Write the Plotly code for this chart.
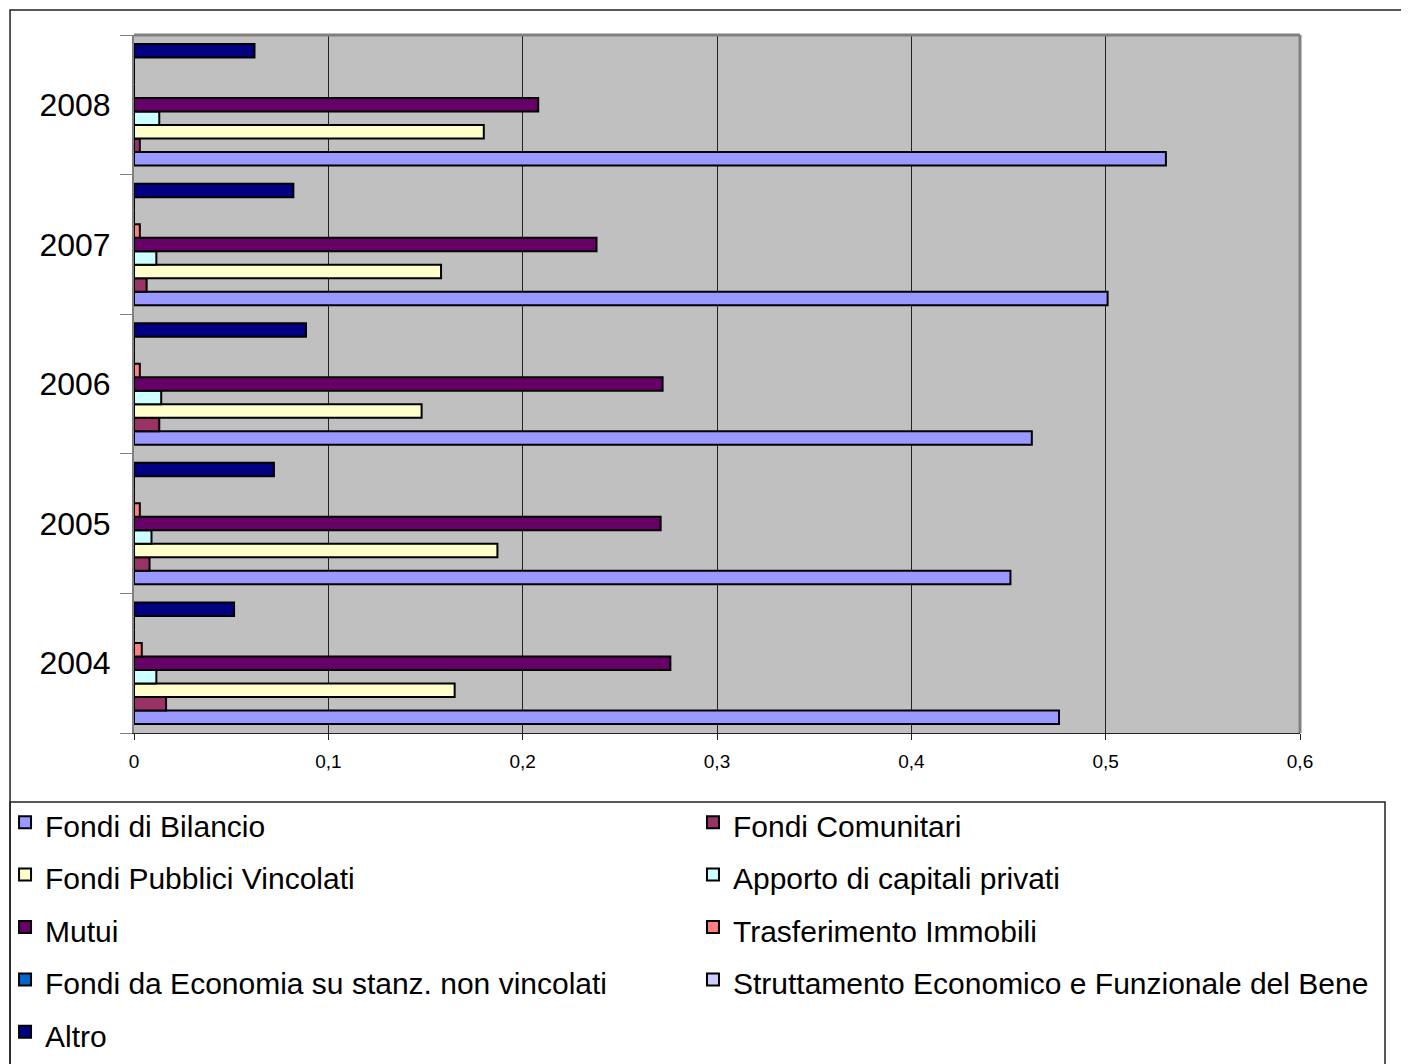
import plotly.graph_objects as go

years = ["2004", "2005", "2006", "2007", "2008"]

series_names = [
    "Fondi di Bilancio",
    "Fondi Comunitari",
    "Fondi Pubblici Vincolati",
    "Apporto di capitali privati",
    "Mutui",
    "Trasferimento Immobili",
    "Fondi da Economia su stanz. non vincolati",
    "Struttamento Economico e Funzionale del Bene",
    "Altro",
]

fondi_bilancio = [0.476, 0.451, 0.462, 0.501, 0.531]
fondi_comunitari = [0.0165, 0.008, 0.013, 0.0065, 0.003]
fondi_pubblici_vincolati = [0.165, 0.187, 0.148, 0.158, 0.180]
apporto_capitali_privati = [0.0115, 0.009, 0.014, 0.0115, 0.013]
mutui = [0.276, 0.271, 0.272, 0.238, 0.208]
trasferimento_immobili = [0.004, 0.003, 0.003, 0.003, 0.0]
fondi_economia = [0.0, 0.0, 0.0, 0.0, 0.0]
struttamento = [0.0, 0.0, 0.0, 0.0, 0.0]
altro = [0.0515, 0.072, 0.0885, 0.082, 0.062]

values = [fondi_bilancio, fondi_comunitari, fondi_pubblici_vincolati,
          apporto_capitali_privati, mutui, trasferimento_immobili,
          fondi_economia, struttamento, altro]

colors = ["#9999FF", "#993366", "#FFFFCC", "#CCFFFF", "#660066",
          "#FF8080", "#0066CC", "#CCCCFF", "#000080"]

FONT = "Arial, Liberation Sans, sans-serif"

fig = go.Figure()
for i, (name, vals, col) in enumerate(zip(series_names, values, colors)):
    fig.add_trace(go.Bar(
        y=years, x=vals, orientation="h",
        name='<span style="font-size:30px">' + name + '</span>',
        legend="legend" if i % 2 == 0 else "legend2",
        marker=dict(color=col, line=dict(color="black", width=2)),
    ))

legend_common = dict(
    orientation="v",
    y=-0.0831, yanchor="top",
    xanchor="left",
    traceorder="normal",
    font=dict(size=38, family=FONT, color="black"),
    bgcolor="rgba(0,0,0,0)",
    borderwidth=0,
)

fig.update_layout(
    width=1409, height=1064,
    margin=dict(l=126, r=117, t=27, b=339, autoexpand=False),
    paper_bgcolor="white",
    plot_bgcolor="#C0C0C0",
    barmode="group",
    bargap=0.13,
    bargroupgap=0,
    separators=",.",
    font=dict(family=FONT, color="black"),
    showlegend=True,
    legend=dict(x=-0.1106, **legend_common),
    legend2=dict(x=0.4794, **legend_common),
    xaxis=dict(
        range=[0, 0.6], dtick=0.1, tick0=0,
        showgrid=True, gridcolor="#222222", gridwidth=1,
        zeroline=False,
        showline=True, linecolor="#222222", linewidth=1,
        ticks="outside", ticklen=6, tickcolor="#222222",
        tickfont=dict(size=19, family=FONT),
        ticklabelstandoff=5,
        fixedrange=True,
    ),
    yaxis=dict(
        type="category",
        categoryorder="array", categoryarray=years,
        showgrid=False, zeroline=False,
        showline=True, linecolor="#808080", linewidth=2,
        ticks="outside", ticklen=12, tickcolor="#808080", tickson="boundaries",
        tickfont=dict(size=32, family=FONT),
        ticklabelstandoff=15,
    ),
    shapes=[
        dict(type="line", xref="paper", yref="paper", x0=0, x1=1, y0=1, y1=1,
             line=dict(color="#808080", width=3)),
        dict(type="line", xref="paper", yref="paper", x0=1, x1=1, y0=0, y1=1,
             line=dict(color="#808080", width=3)),
        dict(type="rect", xref="paper", yref="paper",
             x0=-0.1063, x1=1.1, y0=-0.5, y1=1.0358,
             line=dict(color="#222222", width=1.5), layer="below"),
        dict(type="rect", xref="paper", yref="paper",
             x0=-0.1063, x1=1.0729, y0=-0.5, y1=-0.0989,
             line=dict(color="#222222", width=1.5), layer="below"),
    ],
)

fig.write_html("out.html")
